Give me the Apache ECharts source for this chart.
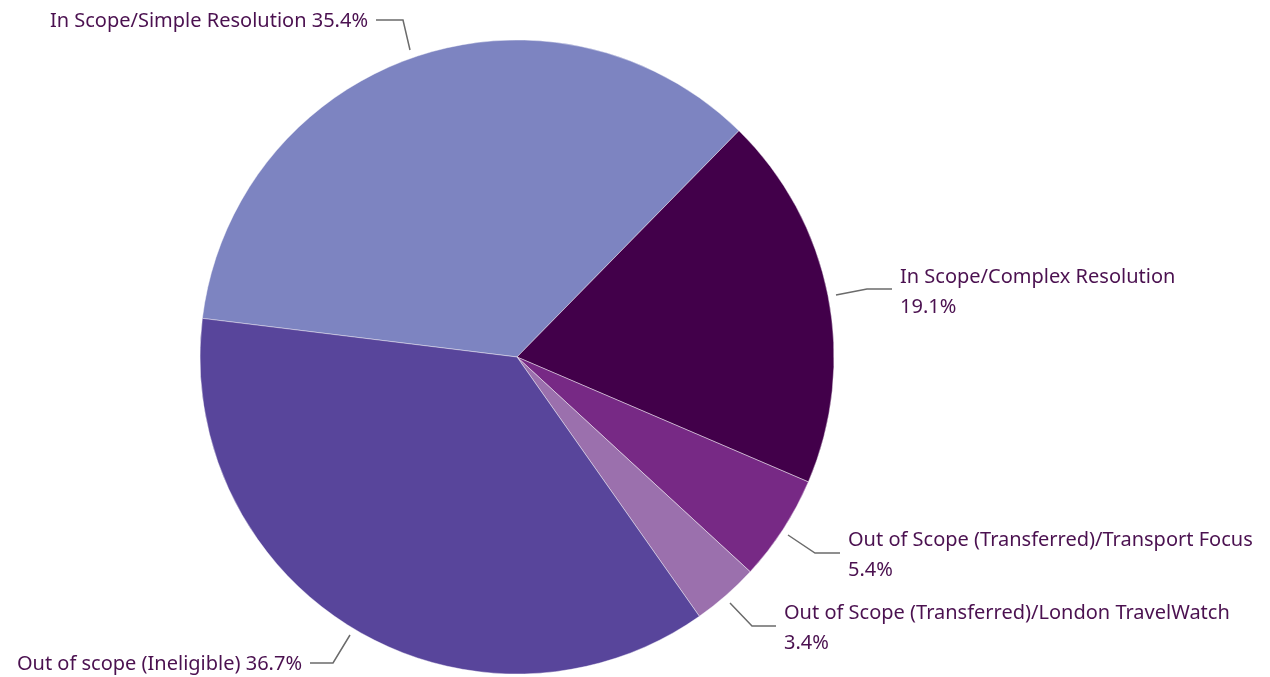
<!DOCTYPE html>
<html>
<head>
<meta charset="utf-8">
<script src="https://cdn.jsdelivr.net/npm/echarts@6/dist/echarts.min.js"></script>
<style>
  html, body { margin: 0; padding: 0; background: #fff; }
  #chart { width: 1270px; height: 677px; }
</style>
</head>
<body>
<div id="chart"></div>
<script>
  // slices in clockwise order, starting at the left edge
  const categories = [
    'In Scope/Simple Resolution',
    'In Scope/Complex Resolution',
    'Out of Scope (Transferred)/Transport Focus',
    'Out of Scope (Transferred)/London TravelWatch',
    'Out of scope (Ineligible)'
  ];
  const shares = [35.4, 19.1, 5.4, 3.4, 36.7];
  const colors = ['#7d84c1', '#42004a', '#772985', '#9b70ad', '#58459b'];

  // where each label sits (one line or two), and its leader line
  const labelSpots = [
    { x: 368, y: 21, align: 'right', line: [[410, 50], [403, 20], [376, 20]] },
    { x: 900, y: 292, align: 'left', line: [[836, 295], [867, 289], [892, 289]] },
    { x: 848, y: 555, align: 'left', line: [[788, 535], [815, 553], [840, 553]] },
    { x: 784, y: 628, align: 'left', line: [[730, 603], [752, 626], [776, 626]] },
    { x: 302, y: 664, align: 'right', line: [[350, 635], [333, 663], [310, 663]] }
  ];
  const twoLines = [false, true, true, true, false];

  let chart = echarts.init(document.getElementById('chart'));
  chart.setOption({
    animation: false,
    series: [{
      type: 'pie',
      center: [517, 357],
      radius: 317,
      startAngle: 173,
      clockwise: true,
      percentPrecision: 1,
      itemStyle: {
        borderColor: 'rgba(255,255,255,0.7)',
        borderWidth: 0.6
      },
      label: {
        show: true,
        position: 'outside',
        color: '#4b1150',
        fontFamily: 'Noto Sans',
        fontSize: 20,
        lineHeight: 30,
        formatter: function (p) {
          return twoLines[p.dataIndex] ? p.name + '\n' + p.percent + '%' : p.name + ' ' + p.percent + '%';
        }
      },
      labelLine: {
        show: true,
        lineStyle: { color: '#6b6b6b', width: 1.5 }
      },
      labelLayout: function (params) {
        const s = labelSpots[params.dataIndex];
        return {
          x: s.x,
          y: s.y,
          align: s.align,
          verticalAlign: 'middle',
          labelLinePoints: s.line
        };
      },
      data: categories.map(function (name, i) {
        return { name: name, value: shares[i], itemStyle: { color: colors[i] } };
      })
    }]
  });
</script>
</body>
</html>
